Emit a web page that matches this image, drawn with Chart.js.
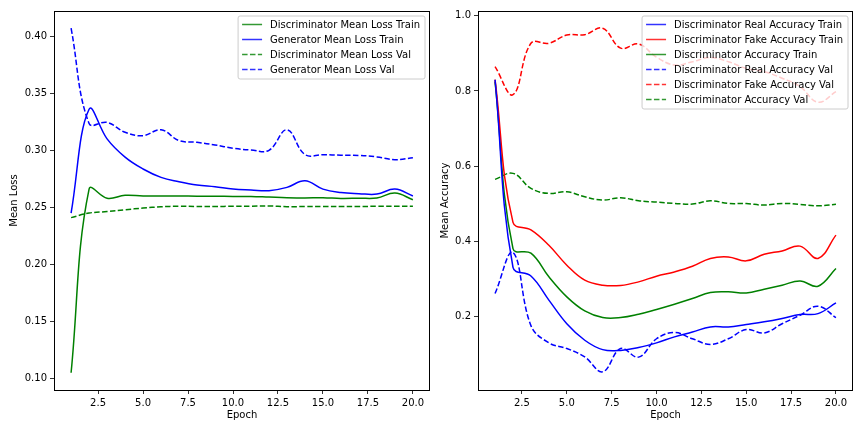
<!DOCTYPE html>
<html>
<head>
<meta charset="utf-8">
<script src="https://cdn.jsdelivr.net/npm/chart.js@4.4.0/dist/chart.umd.min.js"></script>
<style>
html, body { margin: 0; padding: 0; background: #fff; }
#wrap { position: relative; width: 864px; height: 432px; }
.box { position: absolute; top: 0; width: 432px; height: 432px; }
</style>
</head>
<body>
<div id="wrap">
  <div class="box" style="left:0"><canvas id="loss-chart" width="432" height="432"></canvas></div>
  <div class="box" style="left:432px"><canvas id="acc-chart" width="432" height="432"></canvas></div>
</div>
<script>
const epochs = [1, 2, 3, 4, 5, 6, 7, 8, 9, 10, 11, 12, 13, 14, 15, 16, 17, 18, 19, 20];

// left panel - losses
const discLossTrain = [0.105, 0.266, 0.258, 0.2605, 0.260, 0.260, 0.260, 0.2598, 0.2597, 0.2596, 0.2595, 0.259, 0.2585, 0.2583, 0.2585, 0.2578, 0.258, 0.2582, 0.2625, 0.2567];
const genLossTrain = [0.245, 0.336, 0.310, 0.294, 0.2836, 0.2763, 0.2725, 0.2696, 0.268, 0.266, 0.2652, 0.2646, 0.2675, 0.2733, 0.266, 0.263, 0.262, 0.2616, 0.266, 0.260];
const discLossVal = [0.241, 0.245, 0.2463, 0.2479, 0.2494, 0.2505, 0.251, 0.2508, 0.2508, 0.2509, 0.251, 0.2512, 0.2506, 0.2507, 0.2507, 0.2507, 0.2508, 0.2509, 0.251, 0.251];
const genLossVal = [0.407, 0.3235, 0.3245, 0.3158, 0.3128, 0.318, 0.3085, 0.307, 0.3047, 0.3018, 0.3003, 0.300, 0.318, 0.2962, 0.2962, 0.2957, 0.2955, 0.2942, 0.2918, 0.2935];

// right panel - accuracies
const realAccTrain = [0.83, 0.33, 0.307, 0.243, 0.18, 0.136, 0.111, 0.109, 0.1165, 0.129, 0.145, 0.158, 0.1715, 0.1715, 0.178, 0.185, 0.194, 0.2045, 0.207, 0.2355];
const fakeAccTrain = [0.83, 0.45, 0.43, 0.389, 0.336, 0.296, 0.2827, 0.282, 0.2915, 0.3067, 0.318, 0.333, 0.354, 0.358, 0.3475, 0.365, 0.374, 0.3867, 0.354, 0.416];
const accTrain = [0.825, 0.38, 0.368, 0.305, 0.2515, 0.214, 0.1965, 0.1965, 0.2053, 0.218, 0.232, 0.247, 0.263, 0.265, 0.262, 0.272, 0.2827, 0.294, 0.28, 0.327];
const realAccVal = [0.2605, 0.37, 0.175, 0.129, 0.114, 0.0915, 0.052, 0.114, 0.091, 0.14, 0.1565, 0.14, 0.125, 0.14, 0.1645, 0.1555, 0.18, 0.2027, 0.2267, 0.1965];
const fakeAccVal = [0.865, 0.79, 0.927, 0.927, 0.949, 0.95, 0.967, 0.914, 0.925, 0.89, 0.869, 0.878, 0.889, 0.878, 0.86, 0.8515, 0.834, 0.8115, 0.77, 0.798];
const accVal = [0.5645, 0.5805, 0.5405, 0.527, 0.5315, 0.518, 0.5093, 0.5155, 0.5075, 0.504, 0.5005, 0.4987, 0.5075, 0.5005, 0.500, 0.496, 0.5005, 0.498, 0.494, 0.498];

const xTicks = [2.5, 5, 7.5, 10, 12.5, 15, 17.5, 20];
const lossTicks = [0.10, 0.15, 0.20, 0.25, 0.30, 0.35, 0.40];
const accTicks = [0.2, 0.4, 0.6, 0.8, 1.0];

const FONT = { family: 'DejaVu Sans', size: 10 };
const DASH = [5.5, 2.4];

function pts(arr) {
    return epochs.map((e, i) => ({ x: e, y: arr[i] }));
}

function series(label, arr, color, dashed) {
    return {
        label,
        data: pts(arr),
        borderColor: color,
        backgroundColor: color,
        borderWidth: 1.5,
        borderDash: dashed ? DASH : [],
        pointRadius: 0,
        tension: 0.4,
        fill: false
    };
}

// matplotlib-ish frame + legend drawn inside the axes
const boxPlugin = {
    id: 'boxLegend',
    afterDatasetsDraw(chart) {
        const ctx = chart.ctx;
        const a = chart.chartArea;
        const sets = chart.data.datasets;
        ctx.save();
        ctx.font = '10px "DejaVu Sans"';
        let tw = 0;
        sets.forEach(d => { tw = Math.max(tw, ctx.measureText(d.label).width); });
        const w = tw + 37;
        const h = sets.length * 15 + 3;
        const right = a.right - 5;
        const left = right - w;
        const top = a.top + 5;
        ctx.beginPath();
        ctx.roundRect(left, top, w, h, 2);
        ctx.fillStyle = 'rgba(255,255,255,0.8)';
        ctx.fill();
        ctx.strokeStyle = '#cccccc';
        ctx.lineWidth = 1;
        ctx.stroke();
        sets.forEach((d, i) => {
            const y = top + 8.5 + i * 15;
            ctx.beginPath();
            ctx.setLineDash(d.borderDash || []);
            ctx.strokeStyle = d.borderColor;
            ctx.globalAlpha = 0.8;
            ctx.lineWidth = 1.5;
            ctx.moveTo(left + 4, y);
            ctx.lineTo(left + 24, y);
            ctx.stroke();
            ctx.globalAlpha = 1;
            ctx.setLineDash([]);
            ctx.fillStyle = '#000';
            ctx.textBaseline = 'middle';
            ctx.fillText(d.label, left + 32, y + 0.5);
        });
        ctx.restore();
    },
    afterDraw(chart) {
        const ctx = chart.ctx;
        const a = chart.chartArea;
        ctx.save();
        ctx.strokeStyle = '#000';
        ctx.lineWidth = 1;
        ctx.strokeRect(Math.round(a.left) + 0.5, Math.round(a.top) + 0.5,
            Math.round(a.right - a.left) - 1, Math.round(a.bottom - a.top));
        ctx.restore();
    }
};

function xScale() {
    return {
        type: 'linear',
        min: 0.05,
        max: 20.95,
        afterBuildTicks: s => { s.ticks = xTicks.map(v => ({ value: v })); },
        afterFit: s => { s.height = 42; },
        ticks: { callback: v => v.toFixed(1), color: '#000', font: FONT, padding: 3, maxRotation: 0, autoSkip: false },
        grid: { drawOnChartArea: false, drawTicks: true, tickLength: 4, color: '#000', lineWidth: 0.8 },
        border: { display: false },
        title: { display: true, text: 'Epoch', color: '#000', font: FONT, padding: { top: 0, bottom: 11 } }
    };
}

function yScale(min, max, ticks, digits, title, width, pad) {
    return {
        type: 'linear',
        min,
        max,
        afterBuildTicks: s => { s.ticks = ticks.map(v => ({ value: v })); },
        afterFit: s => { s.width = width; },
        ticks: { callback: v => v.toFixed(digits), color: '#000', font: FONT, padding: 3, autoSkip: false },
        grid: { drawOnChartArea: false, drawTicks: true, tickLength: 4, color: '#000', lineWidth: 0.8 },
        border: { display: false },
        title: { display: true, text: title, color: '#000', font: FONT, padding: { top: pad, bottom: 0 } }
    };
}

function baseOptions(yCfg, padRight) {
    return {
        responsive: false,
        animation: false,
        devicePixelRatio: 1,
        layout: { padding: { top: 11, right: padRight, left: 0, bottom: 0 } },
        plugins: { legend: { display: false }, tooltip: { enabled: false } },
        scales: { x: xScale(), y: yCfg }
    };
}

new Chart(document.getElementById('loss-chart').getContext('2d'), {
    type: 'line',
    data: {
        datasets: [
            series('Discriminator Mean Loss Train', discLossTrain, 'green', false),
            series('Generator Mean Loss Train', genLossTrain, 'blue', false),
            series('Discriminator Mean Loss Val', discLossVal, 'green', true),
            series('Generator Mean Loss Val', genLossVal, 'blue', true)
        ]
    },
    options: baseOptions(yScale(0.0899, 0.4221, lossTicks, 2, 'Mean Loss', 54, 8), 2),
    plugins: [boxPlugin]
});

new Chart(document.getElementById('acc-chart').getContext('2d'), {
    type: 'line',
    data: {
        datasets: [
            series('Discriminator Real Accuracy Train', realAccTrain, 'blue', false),
            series('Discriminator Fake Accuracy Train', fakeAccTrain, 'red', false),
            series('Discriminator Accuracy Train', accTrain, 'green', false),
            series('Discriminator Real Accuracy Val', realAccVal, 'blue', true),
            series('Discriminator Fake Accuracy Val', fakeAccVal, 'red', true),
            series('Discriminator Accuracy Val', accVal, 'green', true)
        ]
    },
    options: baseOptions(yScale(0.0035, 1.013, accTicks, 1, 'Mean Accuracy', 46, 7), 11),
    plugins: [boxPlugin]
});
</script>
</body>
</html>
